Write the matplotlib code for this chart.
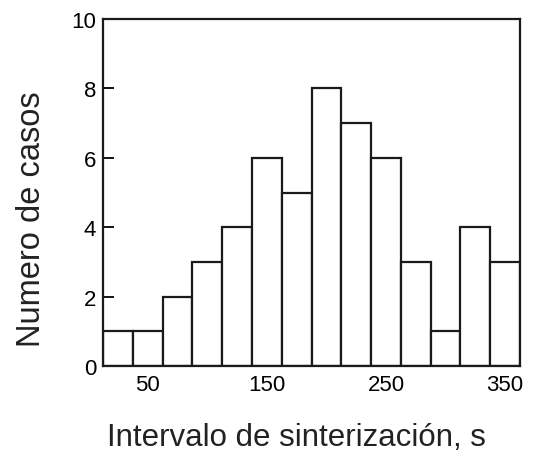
import numpy as np
import matplotlib.pyplot as plt

# histogram data: bin centers (s) and number of cases
centers = [25, 50, 75, 100, 125, 150, 175, 200, 225, 250, 275, 300, 325, 350]
counts = [1, 1, 2, 3, 4, 6, 5, 8, 7, 6, 3, 1, 4, 3]
xticks = [50, 150, 250, 350]
yticks = [0, 2, 4, 6, 8, 10]

plt.rcParams['font.family'] = ['Liberation Sans', 'DejaVu Sans']

fig = plt.figure(figsize=(5.41, 4.52), dpi=100)
ax = fig.add_axes([0.1904, 0.188, 0.7708, 0.7677])

# bars of the histogram
ax.bar(centers, counts, width=25, color='white', edgecolor='#1a1a1a', linewidth=1.6)

ax.set_xlim(12.5, 362.5)
ax.set_ylim(0, 10)
ax.set_xticks(xticks)
ax.set_yticks(yticks)
ax.tick_params(axis='x', length=0, pad=6, labelsize=16)
ax.tick_params(axis='y', direction='in', length=8, width=1.3, pad=5, labelsize=16)
for s in ax.spines.values():
    s.set_linewidth(1.6)
    s.set_color('#1a1a1a')

ax.set_xlabel('Intervalo de sinterización, s', fontsize=22.5, color='#222222')
ax.set_ylabel('Numero de casos', fontsize=23.5, color='#222222')
ax.xaxis.set_label_coords(0.465, -0.16)
ax.yaxis.set_label_coords(-0.134, 0.427)

fig.savefig('out.png', dpi=100)
